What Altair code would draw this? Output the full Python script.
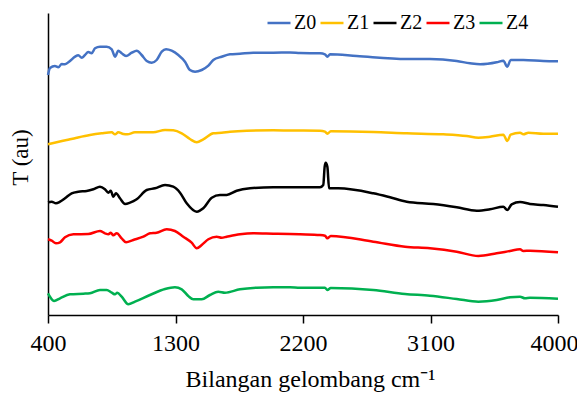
import altair as alt
import pandas as pd

# Wavenumber (cm-1) / transmittance (arbitrary units, offset stacked)
z0_wn = [400, 414, 449, 473, 497, 520, 555, 591, 614, 638, 661, 684, 708, 732, 767, 814, 850, 873, 896, 920, 951, 991, 1026, 1061, 1097, 1132, 1167, 1203, 1233, 1273, 1320, 1367, 1402, 1438, 1485, 1532, 1567, 1626, 1685, 1755, 1849, 1990, 2108, 2179, 2320, 2355, 2372, 2391, 2579, 2932, 3096, 3285, 3379, 3450, 3567, 3614, 3642, 3666, 3756, 3896, 4000]
z0_t = [241, 248, 250, 248.7, 252, 251.7, 255, 259.3, 260.7, 258.3, 261, 264, 262.7, 267.7, 269.3, 269.3, 266.7, 259.3, 265.3, 262.7, 260, 263.3, 265.3, 261, 255, 253.3, 256, 264.3, 266.7, 265.3, 261, 254.3, 246, 244.3, 246, 250.3, 256, 259.3, 261.7, 262.3, 263.3, 263.3, 263.5, 263, 262.7, 261.7, 259.3, 261.7, 260, 257, 257, 255, 252.7, 251.7, 253.7, 255.3, 249.3, 256, 256, 255, 254.7]

z1_wn = [400, 461, 532, 603, 696, 779, 850, 873, 896, 932, 960, 1014, 1143, 1226, 1284, 1344, 1402, 1450, 1496, 1567, 1626, 1685, 1803, 1990, 2108, 2320, 2355, 2372, 2396, 2696, 2932, 3190, 3355, 3438, 3520, 3614, 3642, 3666, 3732, 3756, 3791, 3896, 4000]
z1_t = [171.7, 173.7, 176, 178.3, 181, 182.7, 183.7, 181.7, 183.7, 182, 181.7, 183.7, 183.7, 186, 185.7, 182.7, 177, 173.7, 176.7, 182.7, 183.3, 184.3, 185.3, 185.7, 185.5, 185.3, 184.3, 182.3, 184.7, 184, 182.7, 181.7, 180, 178.3, 179.3, 181.3, 175, 181.3, 183.3, 181.7, 183.3, 182.3, 182.3]

z2_wn = [400, 426, 456, 485, 520, 567, 614, 673, 720, 767, 802, 826, 843, 861, 880, 908, 944, 979, 1026, 1097, 1155, 1226, 1284, 1332, 1379, 1450, 1496, 1556, 1614, 1661, 1732, 1826, 1990, 2179, 2320, 2343, 2353, 2360, 2372, 2384, 2449, 2696, 2814, 2932, 3120, 3285, 3426, 3520, 3614, 3642, 3673, 3732, 3802, 3896, 4000]
z2_t = [113.7, 114.3, 112.7, 114.3, 117.7, 122.7, 124.3, 125, 126.7, 129.3, 126.7, 123.3, 125.3, 119.3, 122.7, 117.7, 112, 113.3, 116.7, 126, 127.7, 131, 129.3, 123.3, 112.7, 104.3, 107.7, 118.3, 121, 121, 125.3, 127.7, 128.7, 128.7, 128.7, 131, 149.3, 153.3, 149.3, 127.7, 127.7, 122.7, 118.7, 114.3, 112, 108.7, 105.3, 106.7, 109.3, 106, 111.7, 114, 112, 111, 109.3]

z3_wn = [400, 426, 456, 485, 520, 579, 684, 767, 802, 826, 843, 861, 885, 920, 951, 1002, 1073, 1120, 1167, 1238, 1296, 1355, 1414, 1450, 1485, 1532, 1591, 1626, 1661, 1755, 1849, 1990, 2108, 2179, 2320, 2355, 2372, 2396, 2696, 2920, 3096, 3285, 3438, 3567, 3661, 3732, 3756, 3802, 4000]
z3_t = [76.7, 75.3, 72.7, 73.7, 78.7, 81.7, 82, 85, 82.7, 81.7, 83.3, 80.7, 82.7, 77.7, 73.7, 76, 79.3, 82.7, 83.3, 86.7, 85, 79.3, 73.3, 67.7, 71, 76.7, 79.3, 78.3, 79.3, 81.7, 82.7, 82.3, 82, 81.7, 81, 80.3, 77.7, 80, 74.3, 69.3, 67.7, 64.3, 60, 62.7, 65, 66.7, 65, 65.3, 63.7]

z4_wn = [400, 414, 443, 485, 555, 649, 696, 767, 814, 850, 873, 889, 920, 967, 1014, 1120, 1226, 1296, 1344, 1390, 1426, 1485, 1543, 1602, 1649, 1755, 1873, 1990, 2108, 2179, 2320, 2355, 2372, 2396, 2696, 2920, 3096, 3285, 3438, 3567, 3661, 3732, 3767, 3802, 4000]
z4_t = [22.7, 19.3, 15, 17.7, 21.7, 22.3, 22.7, 26, 26, 23.3, 21.7, 23.3, 19.3, 11.7, 14.3, 21, 27, 28.7, 26.7, 20, 16.7, 16.7, 21, 24.3, 23.3, 26.7, 28.3, 28.7, 28.7, 28.3, 28.3, 28.3, 26, 28, 26, 22, 20.3, 17, 14.3, 16, 18.7, 19.3, 17.7, 18.3, 17.3]

series_names = ["Z0", "Z1", "Z2", "Z3", "Z4"]
series_colors = ["#4472C4", "#FFC000", "#000000", "#FF0000", "#00B050"]
x_ticks = [400, 1300, 2200, 3100, 4000]

rows = []
for name, wn, t in zip(series_names,
                       [z0_wn, z1_wn, z2_wn, z3_wn, z4_wn],
                       [z0_t, z1_t, z2_t, z3_t, z4_t]):
    for i, (a, b) in enumerate(zip(wn, t)):
        rows.append({"series": name, "wn": a, "T": b, "order": i})
df = pd.DataFrame(rows)

FONT = "Liberation Serif"

chart = alt.Chart(df).mark_line(strokeWidth=2.5, interpolate="monotone").encode(
    x=alt.X("wn:Q",
            scale=alt.Scale(domain=[400, 4000], nice=False, zero=False),
            axis=alt.Axis(values=x_ticks, format="d", title="Bilangan gelombang cm⁻¹",
                          grid=False, tickSize=8, tickWidth=1.5, tickColor="black",
                          domainColor="black", domainWidth=1.5,
                          labelFont=FONT, labelFontSize=24, labelColor="black",
                          labelPadding=8, labelFlush=False,
                          labelOffset={"expr": "datum.value == 4000 ? -4 : 0"},
                          titleFont=FONT, titleFontSize=24, titleFontWeight="normal",
                          titleColor="black", titlePadding=12, titleX=262)),
    y=alt.Y("T:Q",
            scale=alt.Scale(domain=[1, 303], nice=False, zero=False),
            axis=alt.Axis(title="T (au)", labels=False, ticks=False, grid=False,
                          domainColor="black", domainWidth=1.5,
                          titleFont=FONT, titleFontSize=23, titleFontWeight="normal",
                          titleColor="black", titlePadding=16, titleY=144)),
    color=alt.Color("series:N",
                    scale=alt.Scale(domain=series_names, range=series_colors),
                    legend=alt.Legend(title=None, orient="none", legendX=218, legendY=-3,
                                      direction="horizontal", symbolType="stroke",
                                      symbolSize=529, symbolStrokeWidth=2.5,
                                      labelFont=FONT, labelFontSize=20, labelColor="black",
                                      labelOffset=2, columnPadding=-2, padding=0)),
    order="order:Q",
).properties(
    width=510, height=302,
    autosize=alt.AutoSizeParams(type="none"),
    padding={"left": 40, "top": 5, "right": 19, "bottom": 81},
).configure_view(stroke=None)

chart.save("out.html", embed_options={"renderer": "svg", "actions": False})
